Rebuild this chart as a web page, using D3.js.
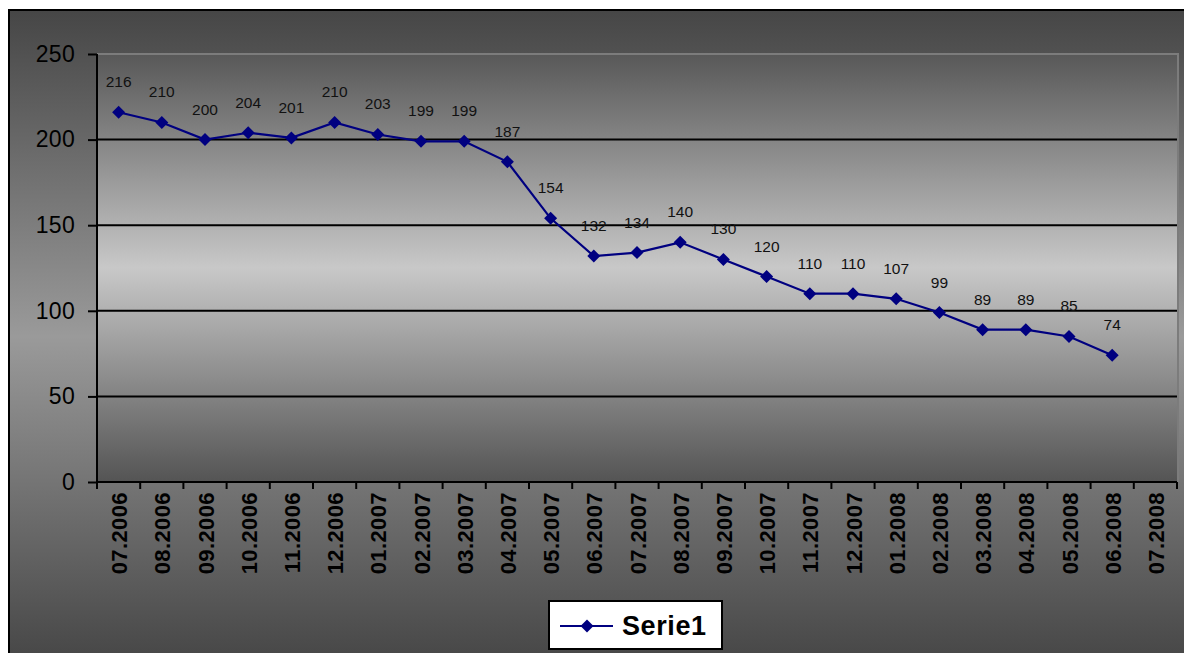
<!DOCTYPE html>
<html>
<head>
<meta charset="utf-8">
<script src="https://cdn.jsdelivr.net/npm/d3@7"></script>
<style>
  html, body { margin: 0; padding: 0; background: #ffffff; }
  svg { display: block; }
  text { font-family: Arial, "Liberation Sans", sans-serif; }
</style>
</head>
<body>
<svg id="chart" width="1184" height="653"></svg>
<script>
// Monthly values, 07.2006 – 07.2008 (last month has no value yet)
const categories = ["07.2006","08.2006","09.2006","10.2006","11.2006","12.2006",
  "01.2007","02.2007","03.2007","04.2007","05.2007","06.2007","07.2007","08.2007",
  "09.2007","10.2007","11.2007","12.2007","01.2008","02.2008","03.2008","04.2008",
  "05.2008","06.2008","07.2008"];
const serie1 = [216,210,200,204,201,210,203,199,199,187,154,132,134,140,130,120,
  110,110,107,99,89,89,85,74];
const yTicks = [0,50,100,150,200,250];
const seriesName = "Serie1";

const svg = d3.select("#chart");
const W = 1184, H = 653;

const defs = svg.append("defs");
const outerGrad = defs.append("linearGradient").attr("id","outerGrad")
  .attr("x1",0).attr("y1",0).attr("x2",0).attr("y2",1);
outerGrad.append("stop").attr("offset","0%").attr("stop-color","#464646");
outerGrad.append("stop").attr("offset","50%").attr("stop-color","#9a9a9a");
outerGrad.append("stop").attr("offset","100%").attr("stop-color","#464646");

const plotGrad = defs.append("linearGradient").attr("id","plotGrad")
  .attr("x1",0).attr("y1",0).attr("x2",0).attr("y2",1);
plotGrad.append("stop").attr("offset","0%").attr("stop-color","#585858");
plotGrad.append("stop").attr("offset","50%").attr("stop-color","#c8c8c8");
plotGrad.append("stop").attr("offset","100%").attr("stop-color","#545454");

// chart area (extends past the window at right and bottom)
svg.append("rect").attr("x",9).attr("y",10).attr("width",W).attr("height",H)
  .attr("fill","url(#outerGrad)").attr("stroke","#000").attr("stroke-width",2);

const plot = { left: 97, right: 1177, top: 54, bottom: 482 };

const x = d3.scaleBand().domain(categories).range([plot.left, plot.right]);
const y = d3.scaleLinear().domain([0,250]).range([plot.bottom, plot.top]);

// plot area
svg.append("rect").attr("x",plot.left).attr("y",plot.top)
  .attr("width",plot.right-plot.left).attr("height",plot.bottom-plot.top)
  .attr("fill","url(#plotGrad)");
svg.append("path")
  .attr("d",`M${plot.left},${plot.top}H${plot.right+1}V${plot.bottom}`)
  .attr("fill","none").attr("stroke","#7c7c7c").attr("stroke-width",2);

// horizontal gridlines
svg.append("g").selectAll("line").data(yTicks.filter(t => t > 0 && t < 250))
  .join("line")
  .attr("x1",plot.left).attr("x2",plot.right)
  .attr("y1",d => y(d)).attr("y2",d => y(d))
  .attr("stroke","#000").attr("stroke-width",2);

// y axis
const yAxis = svg.append("g").attr("transform",`translate(${plot.left},0)`)
  .call(d3.axisLeft(y).tickValues(yTicks).tickSize(9).tickPadding(13).tickSizeOuter(0));
yAxis.select(".domain").attr("stroke","#000").attr("stroke-width",2)
  .attr("d",`M0,${plot.top}V${plot.bottom+7}`);
yAxis.selectAll(".tick line").attr("stroke","#000").attr("stroke-width",2);
yAxis.selectAll(".tick text").attr("font-size",23).attr("fill","#000")
  .attr("letter-spacing",0.3);

// x axis: ticks on category boundaries
const xg = svg.append("g").attr("transform",`translate(0,${plot.bottom})`);
xg.append("line").attr("x1",plot.left).attr("x2",plot.right)
  .attr("stroke","#000").attr("stroke-width",2);
const bounds = categories.map(c => x(c)).concat([plot.right]);
xg.selectAll("line.tk").data(bounds).join("line").attr("class","tk")
  .attr("x1",d => d).attr("x2",d => d).attr("y1",0).attr("y2",7)
  .attr("stroke","#000").attr("stroke-width",2);
xg.selectAll("text").data(categories).join("text")
  .attr("transform",d => `translate(${x(d)+x.bandwidth()/2+1},10) rotate(-90)`)
  .attr("text-anchor","end").attr("dominant-baseline","central")
  .attr("font-size",22).attr("font-weight","bold").attr("fill","#000")
  .attr("letter-spacing",0.4)
  .text(d => d);

// data line
const pts = serie1.map((v,i) => ({ c: categories[i], v }));
const cx = d => x(d.c) + x.bandwidth()/2;
svg.append("path").datum(pts)
  .attr("d", d3.line().x(cx).y(d => y(d.v)))
  .attr("fill","none").attr("stroke","#000080").attr("stroke-width",2.2);

const diamond = r => `M0,${-r}L${r},0L0,${r}L${-r},0Z`;
svg.append("g").selectAll("path").data(pts).join("path")
  .attr("transform",d => `translate(${cx(d)},${y(d.v)})`)
  .attr("d",diamond(6.5)).attr("fill","#000080");

// value labels
svg.append("g").selectAll("text").data(pts).join("text")
  .attr("x",cx).attr("y",d => y(d.v) - 25)
  .attr("text-anchor","middle").attr("font-size",15.5).attr("fill","#111")
  .text(d => d.v);

// legend
const lg = svg.append("g");
lg.append("rect").attr("x",549).attr("y",601).attr("width",173).attr("height",48)
  .attr("fill","#fff").attr("stroke","#000").attr("stroke-width",2);
lg.append("line").attr("x1",560).attr("x2",613).attr("y1",626).attr("y2",626)
  .attr("stroke","#000080").attr("stroke-width",2.2);
lg.append("path").attr("transform","translate(587,626)").attr("d",diamond(6.5))
  .attr("fill","#000080");
lg.append("text").attr("x",622).attr("y",626).attr("dominant-baseline","central")
  .attr("font-size",27).attr("font-weight","bold").attr("fill","#000")
  .attr("letter-spacing",0.6)
  .text(seriesName);
</script>
</body>
</html>
